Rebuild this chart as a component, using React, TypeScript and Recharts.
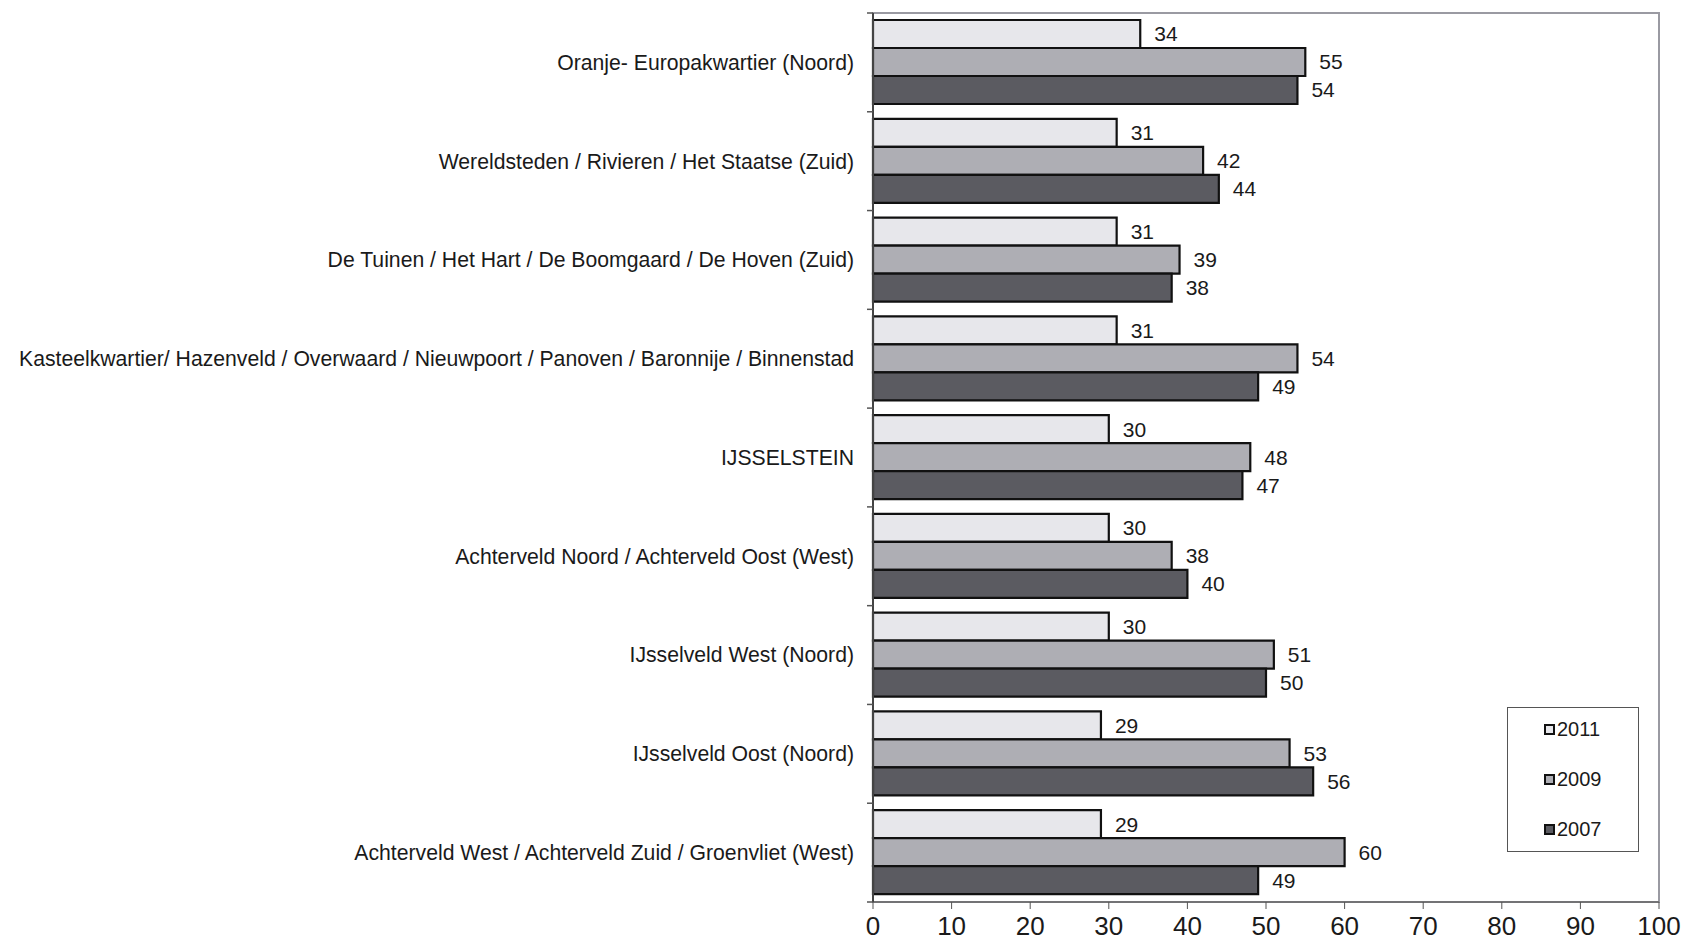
import { BarChart, Bar, XAxis, YAxis, LabelList, ReferenceArea } from "recharts";

const categories = [
  "Oranje- Europakwartier (Noord)",
  "Wereldsteden / Rivieren / Het Staatse (Zuid)",
  "De Tuinen / Het Hart / De Boomgaard / De Hoven (Zuid)",
  "Kasteelkwartier/ Hazenveld / Overwaard / Nieuwpoort / Panoven / Baronnije / Binnenstad",
  "IJSSELSTEIN",
  "Achterveld Noord / Achterveld Oost (West)",
  "IJsselveld West (Noord)",
  "IJsselveld Oost (Noord)",
  "Achterveld West / Achterveld Zuid / Groenvliet (West)",
];

const values2011 = [34, 31, 31, 31, 30, 30, 30, 29, 29];
const values2009 = [55, 42, 39, 54, 48, 38, 51, 53, 60];
const values2007 = [54, 44, 38, 49, 47, 40, 50, 56, 49];

const xTicks = [0, 10, 20, 30, 40, 50, 60, 70, 80, 90, 100];

const series = [
  { key: "y2011", name: "2011", color: "#e7e7eb" },
  { key: "y2009", name: "2009", color: "#aeaeb4" },
  { key: "y2007", name: "2007", color: "#5b5b61" },
];

const data = categories.map((name, i) => ({
  name,
  y2011: values2011[i],
  y2009: values2009[i],
  y2007: values2007[i],
}));

const WIDTH = 1684;
const HEIGHT = 943;
const MARGIN = { top: 13, right: 25, bottom: 0, left: 0 };
const X_AXIS_HEIGHT = 41;
const AXIS_WIDTH = 873;
const FONT = "'Liberation Sans', Arial, Helvetica, sans-serif";
const BAND = (HEIGHT - MARGIN.top - X_AXIS_HEIGHT) / categories.length;

function CategoryTick(props: any) {
  const { y, payload, index } = props;
  return (
    <g>
      <line x1={AXIS_WIDTH - 6} x2={AXIS_WIDTH} y1={y - BAND / 2} y2={y - BAND / 2} stroke="#555" strokeWidth={1.5} />
      {index === categories.length - 1 && (
        <line x1={AXIS_WIDTH - 6} x2={AXIS_WIDTH} y1={y + BAND / 2} y2={y + BAND / 2} stroke="#555" strokeWidth={1.5} />
      )}
      <text
        x={AXIS_WIDTH - 19}
        y={y}
        dy="0.35em"
        textAnchor="end"
        fontSize={21.2}
        fontFamily={FONT}
        fill="#1a1a1a"
      >
        {payload.value}
      </text>
    </g>
  );
}

function LegendBox() {
  return (
    <div
      style={{
        position: "absolute",
        left: 1507,
        top: 707,
        width: 132,
        height: 145,
        border: "1.5px solid #555",
        background: "#fff",
        boxSizing: "border-box",
        display: "flex",
        flexDirection: "column",
        justifyContent: "space-between",
        padding: "10px 0 10px 36px",
        fontFamily: FONT,
        fontSize: 20,
        color: "#1a1a1a",
      }}
    >
      {series.map((s) => (
        <div key={s.key} style={{ display: "flex", alignItems: "center", gap: 2 }}>
          <span
            style={{
              width: 11,
              height: 11,
              background: s.color,
              border: "2px solid #111",
              boxSizing: "border-box",
              display: "inline-block",
            }}
          />
          <span>{s.name}</span>
        </div>
      ))}
    </div>
  );
}

export default function App() {
  return (
    <div style={{ position: "relative", width: WIDTH, height: HEIGHT, background: "#fff" }}>
      <style>{`body{margin:0;background:#fff}`}</style>
      <BarChart
        width={WIDTH}
        height={HEIGHT}
        data={data}
        layout="vertical"
        margin={MARGIN}
        barCategoryGap={7}
        barGap={0}
      >
        <ReferenceArea x1={0} x2={100} fill="none" stroke="#9a9aa2" strokeWidth={2} ifOverflow="visible" />
        <XAxis
          type="number"
          domain={[0, 100]}
          ticks={xTicks}
          interval={0}
          height={X_AXIS_HEIGHT}
          stroke="#555"
          tick={{ fontSize: 26, fill: "#1a1a1a", fontFamily: FONT }}
          tickLine={{ stroke: "#555" }}
          tickSize={7}
          tickMargin={8}
          axisLine={{ stroke: "#666", strokeWidth: 1.5 }}
        />
        <YAxis
          type="category"
          dataKey="name"
          width={AXIS_WIDTH}
          interval={0}
          tickLine={false}
          axisLine={{ stroke: "#444", strokeWidth: 2 }}
          tick={<CategoryTick />}
        />
        {series.map((s) => (
          <Bar
            key={s.key}
            dataKey={s.key}
            name={s.name}
            fill={s.color}
            stroke="#111"
            strokeWidth={2.2}
            isAnimationActive={false}
          >
            <LabelList
              dataKey={s.key}
              position="right"
              offset={14}
              fontSize={21}
              fontFamily={FONT}
              fill="#1a1a1a"
            />
          </Bar>
        ))}
      </BarChart>
      <LegendBox />
    </div>
  );
}
